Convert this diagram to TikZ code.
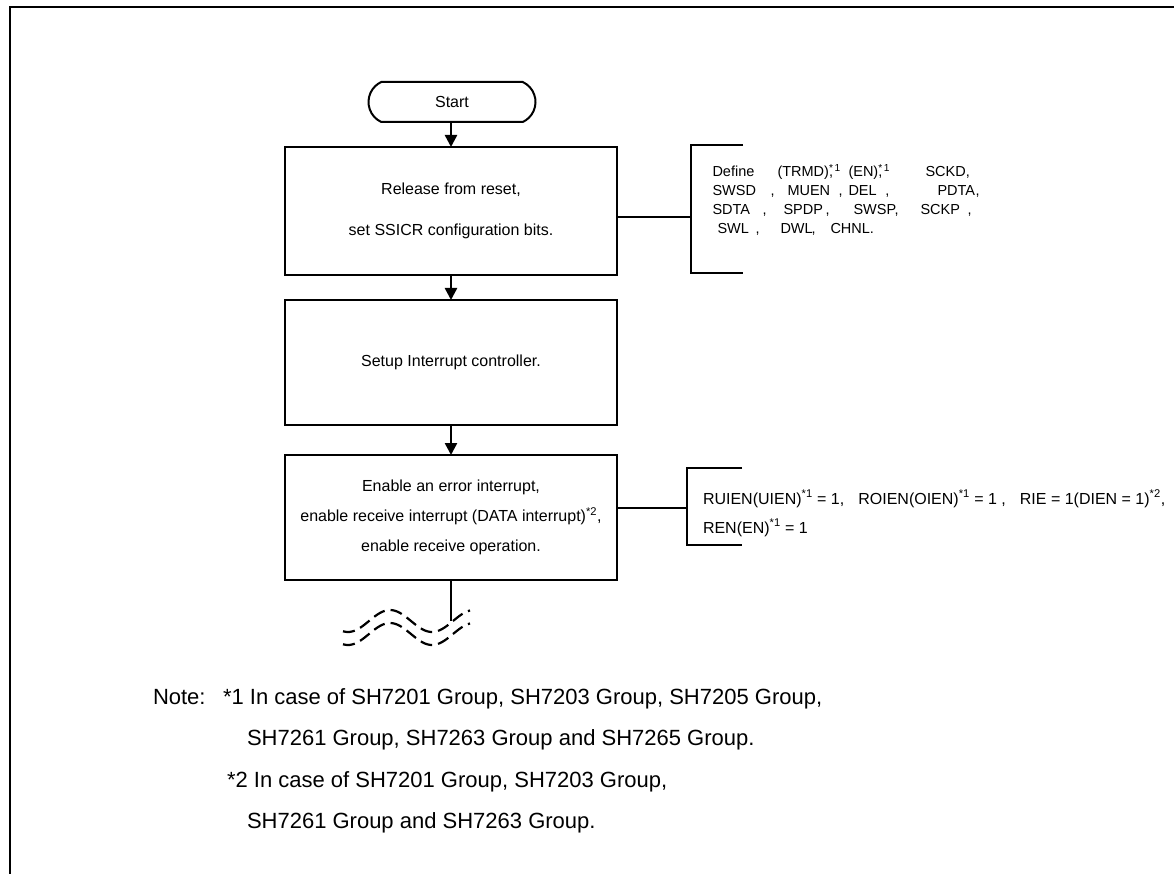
\documentclass[tikz,border=0pt]{standalone}
\usepackage{fontspec}
\setmainfont{Liberation Sans}
\usetikzlibrary{arrows.meta,shapes.misc}
\newcommand\putword[2]{\makebox[0pt][l]{\hspace*{#1pt}#2}}
\begin{document}
\begin{tikzpicture}[x=1pt,y=-1pt,
 every node/.style={inner sep=0pt,outer sep=0pt},
 stepbox/.style={draw,line width=2.8pt,minimum width=332pt,align=center,font=\fontsize{16}{19}\selectfont},
 term/.style={draw,rounded rectangle,rounded rectangle arc length=130,line width=2pt,minimum width=167pt,minimum height=40pt,font=\fontsize{16}{19}\selectfont},
 flow/.style={line width=2.5pt,-{Triangle[length=12pt,width=12pt]}},
 link/.style={line width=1.4pt},
 brk/.style={line width=1.8pt},
 annot/.style={anchor=base west,font=\fontsize{14.5}{17}\selectfont},
 annotb/.style={anchor=base west,font=\fontsize{16}{19}\selectfont},
 note/.style={anchor=base west,font=\fontsize{22}{26}\selectfont},
 wave/.style={line width=2.2pt,dash pattern=on 12pt off 6pt}
]
\useasboundingbox (0,0) rectangle (1174,874);
\fill[white] (0,0) rectangle (1174,874);
% frame
\draw[line width=2pt] (10,874) -- (10,7) -- (1174,7);

% flow nodes
\node[term] (start) at (452,102) {Start};
\node[stepbox,minimum height=128pt] (box1) at (451,211) {Release from reset,\\[22pt]set SSICR configuration bits.};
\node[stepbox,minimum height=125pt] (box2) at (451,362.5) {Setup Interrupt controller.};
\node[stepbox,minimum height=125pt] (box3) at (451,517.5) {Enable an error interrupt,\\[11pt]enable receive interrupt (DATA interrupt)\textsuperscript{*2},\\[11pt]enable receive operation.};

\draw[flow] (box1.north |- start.south) -- (box1.north);
\draw[flow] (box1.south) -- (box2.north);
\draw[flow] (box2.south) -- (box3.north);
\coordinate (cut) at (451,621);
\draw[line width=2.5pt] (box3.south) -- (cut);

% break waves
\draw[wave] plot[domain=343:470,samples=60,smooth] (\x,{621-11*cos(180*(\x-390)/42)});
\draw[wave] plot[domain=343:470,samples=60,smooth] (\x,{634-11*cos(180*(\x-390)/42)});

% annotation 1
\coordinate (b1m) at (691,217);
\coordinate (b1t) at (743,145);
\coordinate (b1b) at (743,273);
\draw[link] (b1m -| box1.east) -- (b1m);
\draw[brk] (b1t) -- (b1t -| b1m) -- (b1b -| b1m) -- (b1b);
\node[annot] (a1) at (712,177) {\putword{0}{Define}\putword{65}{(TRMD)\rlap{,}\textsuperscript{*\,1}}\putword{136}{(EN)\rlap{,}\textsuperscript{*\,1}}\putword{213}{SCKD,}};
\node[annot] (a2) at (712,196) {\putword{0}{SWSD}\putword{58}{,}\putword{75}{MUEN}\putword{126}{,}\putword{136}{DEL}\putword{173}{,}\putword{225}{PDTA}\putword{263}{,}};
\node[annot] (a3) at (712,215) {\putword{0}{SDTA}\putword{50}{,}\putword{71}{SPDP}\putword{113}{,}\putword{141}{SWSP}\putword{182}{,}\putword{208}{SCKP}\putword{255}{,}};
\node[annot] (a4) at (712,234) {\putword{5}{SWL}\putword{43}{,}\putword{68}{DWL}\putword{99}{,}\putword{118}{CHNL.}};

% annotation 3
\coordinate (b3m) at (687,508);
\coordinate (b3t) at (742,468);
\coordinate (b3b) at (742,545);
\draw[link] (b3m -| box3.east) -- (b3m);
\draw[brk] (b3t) -- (b3t -| b3m) -- (b3b -| b3m) -- (b3b);
\node[annotb] (c1) at (703,504) {RUIEN(UIEN)\textsuperscript{*1} = 1,\hspace{14pt}ROIEN(OIEN)\textsuperscript{*1} = 1 ,\hspace{14pt}RIE = 1(DIEN = 1)\textsuperscript{*2},};
\node[annotb] (c2) at (703,533) {REN(EN)\textsuperscript{*1} = 1};

% notes
\node[note] (n0) at (153,704) {Note:};
\node[note] (n1) at (223,704) {*1 In case of SH7201 Group, SH7203 Group, SH7205 Group,};
\node[note] (n2) at (247,745) {SH7261 Group, SH7263 Group and SH7265 Group.};
\node[note] (n3) at (227,787) {*2 In case of SH7201 Group, SH7203 Group,};
\node[note] (n4) at (247,828) {SH7261 Group and SH7263 Group.};
\end{tikzpicture}
\end{document}
